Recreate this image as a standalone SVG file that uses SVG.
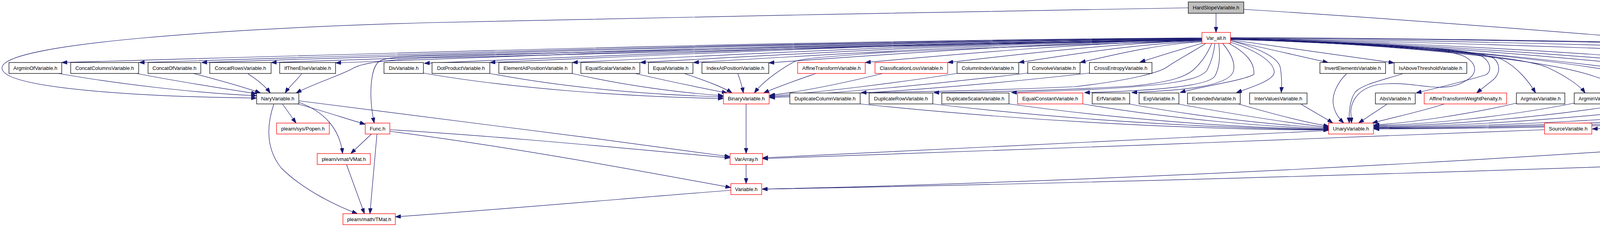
<svg xmlns="http://www.w3.org/2000/svg" width="5500" height="581" viewBox="0 0 5500 581">
<style>
.n rect{fill:#ffffff;stroke:#000000;stroke-width:1.3}
.r rect{stroke:#ff0000}
.g rect{fill:#bfbfbf}
text{font-family:"Liberation Sans",Arial,sans-serif;font-size:13px;text-anchor:middle;fill:#000000}
#edges path{fill:none;stroke:#191970;stroke-width:1.2;marker-end:url(#ah)}
</style>
<defs>
<marker id="ah" markerWidth="14" markerHeight="10" refX="14" refY="5" orient="auto" markerUnits="userSpaceOnUse">
<path d="M0,0 L14,5 L0,10 z" fill="#191970" stroke="#191970" stroke-width="1"/>
</marker>
</defs>
<rect width="5500" height="581" fill="#ffffff"/>
<g id="edges">
<!-- HardSlope -->
<path d="M3113,34 L3113,83"/>
<path d="M3042,20 C2500,30 1600,45 1100,58 C600,72 5,110 5,174 C5,230 400,248 657,251"/>
<path d="M3184,24 C3700,55 4500,122 4991,166"/>
<!-- Var_all to row A left -->
<path d="M3077,97 C2104,103 1131,132 158,160"/>
<path d="M3077,98 C2170,104 1263,132 356,160"/>
<path d="M3077,98 C2223,104 1370,132 516,160"/>
<path d="M3077,99 C2283,105 1488,133 694,160"/>
<path d="M3077,99 C2338,105 1598,133 859,161"/>
<path d="M3077,100 C2413,106 1750,134 1086,162"/>
<path d="M3077,100 C2469,106 1862,133 1254,160"/>
<path d="M3077,101 C2540,107 2002,133 1465,160"/>
<path d="M3077,101 C2598,107 2118,133 1639,160"/>
<path d="M3077,102 C2643,108 2209,134 1775,160"/>
<path d="M3077,102 C2707,108 2338,134 1968,161"/>
<path d="M3077,103 C2790,109 2502,134 2215,160"/>
<path d="M3077,104 C2860,110 2643,135 2426,160"/>
<path d="M3077,106 C2921,111 2764,136 2608,160"/>
<path d="M3077,107 C2973,112 2869,136 2765,160"/>
<path d="M3080,110 C3026,125 2972,142 2918,159"/>
<!-- Var_all to Nary, Func, Binary -->
<path d="M3077,103 C2400,112 1500,140 1100,148 C1000,152 930,160 905,174 C880,190 800,215 758,238"/>
<path d="M3077,102 C2400,110 1400,135 1100,143 C1000,146 980,150 970,158 C950,172 942,240 958,315"/>
<path d="M3077,104 C2700,115 2300,130 2200,139 C2100,147 2050,150 2033,158 C2015,168 1960,200 1931,238"/>
<!-- Var_all to row B left -->
<path d="M3087,111 C3050,135 3010,155 2990,170 C2970,185 2900,205 2750,222 C2500,233 2300,236 2204,237"/>
<path d="M3102,111 C3090,140 3075,160 3059,175 C3040,195 3000,210 2901,220 C2700,232 2500,236 2390,237"/>
<path d="M3110,111 C3108,135 3100,160 3090,180 C3070,205 3000,220 2750,231 C2680,234 2620,236 2589,237"/>
<path d="M3120,111 C3123,135 3124,170 3110,195 C3090,225 2900,234 2776,237"/>
<path d="M3130,111 C3150,135 3162,160 3158,180 C3150,225 3000,232 2897,237"/>
<path d="M3146,111 C3190,135 3212,160 3210,190 C3190,205 3070,222 3021,237"/>
<path d="M3150,108 C3220,130 3262,160 3262,185 C3262,205 3200,225 3165,237"/>
<path d="M3150,104 C3230,125 3275,150 3278,175 C3282,205 3281,220 3280,237"/>
<!-- Var_all to right side -->
<path d="M3150,104 C3240,123 3330,145 3400,160"/>
<path d="M3150,102 C3290,122 3430,142 3569,161"/>
<path d="M3150,100 C3500,110 3760,125 3795,145 C3815,158 3820,180 3805,191 C3760,205 3680,225 3625,238"/>
<path d="M3150,100 C3500,108 3790,125 3825,150 C3845,170 3838,195 3815,210 C3800,222 3790,230 3780,238"/>
<path d="M3150,100 C3450,108 3700,120 3750,145 C3785,165 3780,190 3755,205 C3730,222 3700,226 3660,222 C3620,218 3580,210 3530,216 C3480,225 3460,255 3458,285 L3460,315"/>
<path d="M3150,101 C3450,110 3790,130 3845,152 C3885,172 3915,210 3931,238"/>
<path d="M3150,101 C3500,110 3880,140 3960,172 C4010,195 4045,220 4058,238"/>
<path d="M3150,100 C3550,112 3950,150 4080,195 C4140,215 4185,228 4205,238"/>
<path d="M3150,100 C3650,112 4100,165 4240,205 C4310,222 4360,230 4387,238"/>
<path d="M3150,100 C3630,110 4109,162 4589,238"/>
<path d="M3150,99 C3696,113 4241,162 4787,238"/>
<path d="M3150,99 C3754,113 4358,162 4962,238"/>
<path d="M3150,98 C3820,112 4489,161 5159,238"/>
<path d="M3150,98 C3800,110 4500,135 4991,168"/>
<path d="M3150,97 C4000,100 5200,130 5375,158 C5400,165 5420,200 5427,238"/>
<path d="M3150,96 C4000,100 5200,125 5400,152 C5470,175 5495,200 5495,235 L5495,325 C5495,345 5440,352 5300,368 C5100,385 4900,398 4850,400 C4300,422 3000,466 1951,484"/>
<path d="M3150,98 C4000,105 4900,140 5100,158 C5200,165 5290,175 5320,200 C5345,225 5350,260 5335,268 C5250,290 4950,315 4850,328 C4400,380 3000,462 1951,484"/>
<!-- Var_operators, Var.h -->
<path d="M5048,188 L5048,238"/>
<path d="M5084,188 L5202,238"/>
<path d="M5106,187 L5405,248"/>
<path d="M5405,258 C5200,285 4700,305 4076,330"/>
<!-- row A to Nary -->
<path d="M150,188 C300,215 500,238 657,245"/>
<path d="M350,188 C450,208 580,228 657,240"/>
<path d="M495,188 C560,205 630,225 667,238"/>
<path d="M635,189 C660,205 680,222 692,238"/>
<path d="M772,189 C760,205 740,222 730,238"/>
<!-- row A to Binary -->
<path d="M1084,187 C1300,225 1600,248 1852,252"/>
<path d="M1254,188 C1450,225 1650,242 1852,248"/>
<path d="M1465,188 C1600,220 1750,238 1852,245"/>
<path d="M1626,188 C1720,210 1810,228 1862,238"/>
<path d="M1752,188 C1800,205 1850,222 1874,238"/>
<path d="M1889,189 C1895,205 1900,222 1903,238"/>
<path d="M2089,188 C2040,205 1990,222 1955,238"/>
<path d="M2260,188 C2150,215 2050,235 1970,244"/>
<path d="M2449,188 C2300,212 2100,236 1970,246"/>
<path d="M2631,187 C2400,215 2150,238 1970,248"/>
<path d="M2789,187 C2500,220 2200,242 1970,250"/>
<!-- row B to Unary -->
<path d="M2202,266 C2700,318 3150,332 3402,333"/>
<path d="M2388,266 C2800,315 3200,330 3402,332"/>
<path d="M2583,266 C2900,310 3200,328 3402,331"/>
<path d="M2772,266 C3000,305 3250,325 3402,330"/>
<path d="M2890,266 C3100,305 3300,322 3402,328"/>
<path d="M3015,266 C3200,300 3330,318 3402,326"/>
<path d="M3170,266 C3270,295 3350,315 3402,323"/>
<path d="M3330,266 C3360,285 3390,300 3412,315"/>
<path d="M3550,267 L3478,315"/>
<path d="M3698,266 C3640,285 3560,302 3513,315"/>
<path d="M3882,264 C3750,295 3600,315 3517,320"/>
<path d="M4030,264 C3850,300 3650,318 3517,322"/>
<path d="M4175,264 C3950,302 3700,320 3517,324"/>
<path d="M4351,264 C4050,305 3750,322 3517,326"/>
<path d="M4568,265 C4200,308 3800,324 3517,327"/>
<path d="M4787,265 C4350,310 3850,326 3517,328"/>
<path d="M4960,265 C4450,312 3900,328 3517,329"/>
<path d="M5160,265 C4550,314 3950,330 3517,330"/>
<path d="M3447,189 C3425,210 3410,240 3413,265 C3416,290 3430,305 3440,315"/>
<path d="M3590,189 C3540,205 3490,215 3470,235 C3455,255 3453,290 3454,315"/>
<!-- Unary, Source to VarArray -->
<path d="M3402,334 C3000,350 2400,385 1952,404"/>
<path d="M3954,332 C3400,352 2500,390 1952,406"/>
<!-- Nary -->
<path d="M723,266 L758,315"/>
<path d="M762,266 C830,285 890,305 935,318"/>
<path d="M765,262 C830,285 870,330 877,393"/>
<path d="M701,266 C683,320 680,380 720,430 C780,490 870,530 915,547"/>
<path d="M765,258 C1100,300 1500,350 1869,401"/>
<!-- Func -->
<path d="M951,343 L898,393"/>
<path d="M965,343 L947,547"/>
<path d="M998,332 C1300,350 1600,380 1869,404"/>
<path d="M998,336 C1300,375 1600,430 1871,480"/>
<!-- VMat, Binary, VarArray, Variable -->
<path d="M887,421 L933,547"/>
<path d="M1910,266 L1910,393"/>
<path d="M1910,421 L1910,470"/>
<path d="M1871,487 C1600,508 1300,535 1012,555"/>
</g>
<g id="n_hardslope" class="n g"><rect x="3042" y="5" width="142" height="29"/><text x="3113" y="24">HardSlopeVariable.h</text></g>
<g id="n_varall" class="n r"><rect x="3077" y="83" width="73" height="28"/><text x="3113.5" y="101.7">Var_all.h</text></g>
<g id="n_argminof" class="n"><rect x="23" y="160" width="135" height="28"/><text x="90.5" y="178.7">ArgminOfVariable.h</text></g>
<g id="n_concatcolumns" class="n"><rect x="181" y="160" width="174" height="28"/><text x="268" y="178.7">ConcatColumnsVariable.h</text></g>
<g id="n_concatof" class="n"><rect x="379" y="160" width="135" height="28"/><text x="446.5" y="178.7">ConcatOfVariable.h</text></g>
<g id="n_concatrows" class="n"><rect x="537" y="160" width="157" height="28"/><text x="615.5" y="178.7">ConcatRowsVariable.h</text></g>
<g id="n_ifthenelse" class="n"><rect x="716" y="160" width="143" height="28"/><text x="787.5" y="178.7">IfThenElseVariable.h</text></g>
<g id="n_div" class="n"><rect x="983" y="160" width="101" height="28"/><text x="1033.5" y="178.7">DivVariable.h</text></g>
<g id="n_dotproduct" class="n"><rect x="1106" y="160" width="148" height="28"/><text x="1180" y="178.7">DotProductVariable.h</text></g>
<g id="n_elementatposition" class="n"><rect x="1277" y="160" width="188" height="28"/><text x="1371" y="178.7">ElementAtPositionVariable.h</text></g>
<g id="n_equalscalar" class="n"><rect x="1487" y="160" width="151" height="28"/><text x="1562.5" y="178.7">EqualScalarVariable.h</text></g>
<g id="n_equal" class="n"><rect x="1660" y="160" width="114" height="28"/><text x="1717" y="178.7">EqualVariable.h</text></g>
<g id="n_indexatposition" class="n"><rect x="1797" y="160" width="171" height="28"/><text x="1882.5" y="178.7">IndexAtPositionVariable.h</text></g>
<g id="n_affinetransform" class="n r"><rect x="2042" y="160" width="173" height="28"/><text x="2128.5" y="178.7">AffineTransformVariable.h</text></g>
<g id="n_classificationloss" class="n r"><rect x="2240" y="160" width="186" height="28"/><text x="2333" y="178.7">ClassificationLossVariable.h</text></g>
<g id="n_columnindex" class="n"><rect x="2450" y="160" width="158" height="28"/><text x="2529" y="178.7">ColumnIndexVariable.h</text></g>
<g id="n_convolve" class="n"><rect x="2631" y="160" width="134" height="28"/><text x="2698" y="178.7">ConvolveVariable.h</text></g>
<g id="n_crossentropy" class="n"><rect x="2789" y="160" width="160" height="28"/><text x="2869" y="178.7">CrossEntropyVariable.h</text></g>
<g id="n_invertelements" class="n"><rect x="3379" y="160" width="168" height="28"/><text x="3463" y="178.7">InvertElementsVariable.h</text></g>
<g id="n_isabovethreshold" class="n"><rect x="3569" y="160" width="186" height="28"/><text x="3662" y="178.7">IsAboveThresholdVariable.h</text></g>
<g id="n_varoperators" class="n"><rect x="4991" y="160" width="115" height="28"/><text x="5048.5" y="178.7">Var_operators.h</text></g>
<g id="n_nary" class="n"><rect x="657" y="238" width="108" height="28"/><text x="711" y="256.7">NaryVariable.h</text></g>
<g id="n_binary" class="n r"><rect x="1852" y="238" width="117" height="28"/><text x="1910.5" y="256.7">BinaryVariable.h</text></g>
<g id="n_duplicatecolumn" class="n"><rect x="2022" y="238" width="180" height="28"/><text x="2112" y="256.7">DuplicateColumnVariable.h</text></g>
<g id="n_duplicaterow" class="n"><rect x="2225" y="238" width="163" height="28"/><text x="2306.5" y="256.7">DuplicateRowVariable.h</text></g>
<g id="n_duplicatescalar" class="n"><rect x="2411" y="238" width="172" height="28"/><text x="2497" y="256.7">DuplicateScalarVariable.h</text></g>
<g id="n_equalconstant" class="n r"><rect x="2605" y="238" width="167" height="28"/><text x="2688.5" y="256.7">EqualConstantVariable.h</text></g>
<g id="n_erf" class="n"><rect x="2796" y="238" width="96" height="28"/><text x="2844" y="256.7">ErfVariable.h</text></g>
<g id="n_exp" class="n"><rect x="2916" y="238" width="102" height="28"/><text x="2967" y="256.7">ExpVariable.h</text></g>
<g id="n_extended" class="n"><rect x="3040" y="238" width="135" height="28"/><text x="3107.5" y="256.7">ExtendedVariable.h</text></g>
<g id="n_intervalues" class="n"><rect x="3199" y="238" width="147" height="28"/><text x="3272.5" y="256.7">InterValuesVariable.h</text></g>
<g id="n_abs" class="n"><rect x="3521" y="238" width="102" height="28"/><text x="3572" y="256.7">AbsVariable.h</text></g>
<g id="n_affinetransformweightpenalty" class="n r"><rect x="3646" y="238" width="211" height="28"/><text x="3751.5" y="256.7">AffineTransformWeightPenalty.h</text></g>
<g id="n_argmax" class="n"><rect x="3882" y="238" width="124" height="28"/><text x="3944" y="256.7">ArgmaxVariable.h</text></g>
<g id="n_argmin" class="n"><rect x="4030" y="238" width="121" height="28"/><text x="4090.5" y="256.7">ArgminVariable.h</text></g>
<g id="n_columnsum" class="n"><rect x="4175" y="238" width="152" height="28"/><text x="4251" y="256.7">ColumnSumVariable.h</text></g>
<g id="n_cutabove" class="n"><rect x="4351" y="238" width="194" height="28"/><text x="4448" y="256.7">CutAboveThresholdVariable.h</text></g>
<g id="n_cutbelow" class="n"><rect x="4569" y="238" width="195" height="28"/><text x="4666.5" y="256.7">CutBelowThresholdVariable.h</text></g>
<g id="n_determinant" class="n"><rect x="4787" y="238" width="151" height="28"/><text x="4862.5" y="256.7">DeterminantVariable.h</text></g>
<g id="n_negateelements" class="n"><rect x="4960" y="238" width="178" height="28"/><text x="5049" y="256.7">NegateElementsVariable.h</text></g>
<g id="n_timesconstant" class="n r"><rect x="5160" y="238" width="170" height="28"/><text x="5245" y="256.7">TimesConstantVariable.h</text></g>
<g id="n_var" class="n"><rect x="5405" y="238" width="52" height="28"/><text x="5431" y="256.7">Var.h</text></g>
<g id="n_popen" class="n r"><rect x="708" y="315" width="135" height="28"/><text x="775.5" y="333.7">plearn/sys/Popen.h</text></g>
<g id="n_func" class="n r"><rect x="935" y="315" width="63" height="28"/><text x="966.5" y="333.7">Func.h</text></g>
<g id="n_unary" class="n r"><rect x="3401" y="315" width="115" height="28"/><text x="3458.5" y="333.7">UnaryVariable.h</text></g>
<g id="n_source" class="n r"><rect x="3954" y="315" width="121" height="28"/><text x="4014.5" y="333.7">SourceVariable.h</text></g>
<g id="n_vmat" class="n r"><rect x="812" y="393" width="136" height="28"/><text x="880" y="411.7">plearn/vmat/VMat.h</text></g>
<g id="n_vararray" class="n r"><rect x="1869" y="393" width="83" height="28"/><text x="1910.5" y="411.7">VarArray.h</text></g>
<g id="n_variable" class="n r"><rect x="1871" y="470" width="79" height="28"/><text x="1910.5" y="488.7">Variable.h</text></g>
<g id="n_tmat" class="n r"><rect x="878" y="547" width="134" height="28"/><text x="945" y="565.7">plearn/math/TMat.h</text></g>
</svg>
